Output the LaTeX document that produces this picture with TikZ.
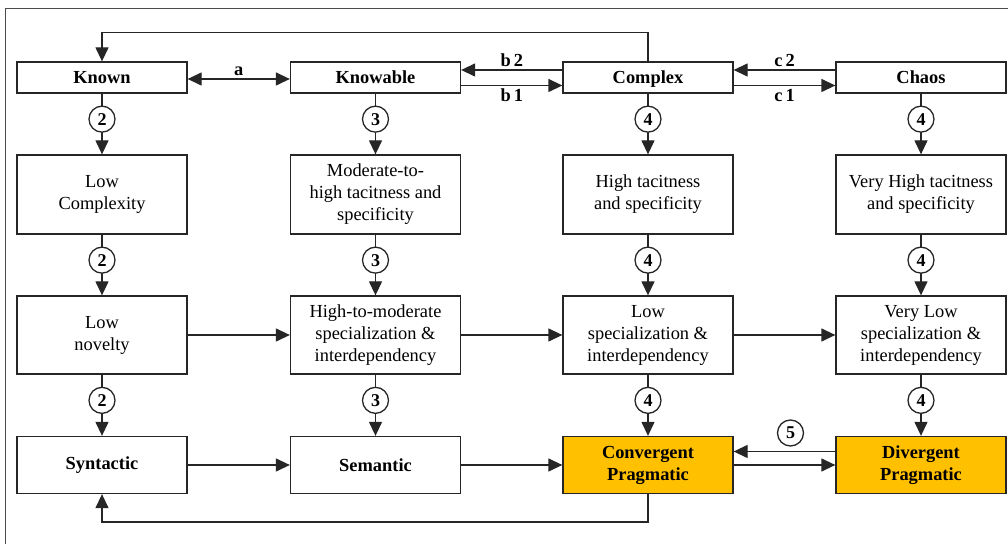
\documentclass[tikz,border=0pt]{standalone}
\usepackage{fontspec}
\setmainfont{Liberation Serif}
\usepackage{tikz}
\usetikzlibrary{arrows.meta,calc}

\definecolor{gold}{HTML}{FFC000}

\begin{document}
\begin{tikzpicture}[x=0.5pt, y=-0.5pt, line width=0.65pt, draw=black!85,
    >={Triangle[length=7pt,width=6.5pt]},
    box/.style={draw, align=center, minimum width=85pt, inner sep=2pt,
      font=\fontsize{9.2}{11}\selectfont},
    head/.style={box, minimum height=15.5pt, text height=7.6pt, text depth=1.2pt,
      font=\bfseries\fontsize{9.2}{11}\selectfont},
    kind/.style={box, minimum height=28.5pt, font=\bfseries\fontsize{9.2}{11}\selectfont},
    num/.style={circle, draw, fill=white, inner sep=0pt, minimum size=13pt,
      font=\bfseries\fontsize{9}{11}\selectfont},
    tag/.style={font=\bfseries\fontsize{9.2}{11}\selectfont, inner sep=1.5pt}]

    \useasboundingbox (0,0) rectangle (1008,544);
    \draw[black!70, line width=0.8pt] (5.5,560) -- (5.5,8.5) -- (1020,8.5);

    % domains
    \node[head] (known)    at (102,77.5)   {Known};
    \node[head] (knowable) at (375.5,77.5) {Knowable};
    \node[head] (complex)  at (648,77.5)   {Complex};
    \node[head] (chaos)    at (921,77.5)   {Chaos};

    % tacitness
    \node[box, minimum height=39.5pt] (lowcx)   at (102,194.5)   {Low\\Complexity};
    \node[box, minimum height=39.5pt] (modhigh) at (375.5,194.5) {Moderate-to-\\high tacitness and\\specificity};
    \node[box, minimum height=39.5pt] (hightac) at (648,194.5)   {High tacitness\\and specificity};
    \node[box, minimum height=39.5pt] (vhigh)   at (921,194.5)   {Very High tacitness\\and specificity};

    % specialization
    \node[box, minimum height=39pt] (lownov) at (102,335)   {Low\\novelty};
    \node[box, minimum height=39pt] (himod)  at (375.5,335) {High-to-moderate\\specialization \&\\interdependency};
    \node[box, minimum height=39pt] (lowspc) at (648,335)   {Low\\specialization \&\\interdependency};
    \node[box, minimum height=39pt] (vlow)   at (921,335)   {Very Low\\specialization \&\\interdependency};

    % boundaries
    \node[kind] (syn)  at (102,465)   {Syntactic};
    \node[kind] (sem)  at (375.5,465) {Semantic};
    \node[kind, fill=gold] (conv) at (648,465) {Convergent\\Pragmatic};
    \node[kind, fill=gold] (div)  at (921,465) {Divergent\\Pragmatic};

    \foreach \a/\b/\n in {known/lowcx/2, lowcx/lownov/2, lownov/syn/2,
                          knowable/modhigh/3, modhigh/himod/3, himod/sem/3,
                          complex/hightac/4, hightac/lowspc/4, lowspc/conv/4,
                          chaos/vhigh/4, vhigh/vlow/4, vlow/div/4} {
      \draw[->] (\a) -- node[num, pos=0.42] {\n} (\b);
    }

    \draw[<->] ($(known.east)+(0,1.5)$) -- node[tag, above] {a} ($(knowable.west)+(0,1.5)$);
    \draw[->] ($(complex.west)+(0,-7.5)$) -- node[tag, above] {b\,2} ($(knowable.east)+(0,-7.5)$);
    \draw[->] ($(knowable.east)+(0,8)$) -- node[tag, below] {b\,1} ($(complex.west)+(0,8)$);
    \draw[->] ($(chaos.west)+(0,-7.5)$) -- node[tag, above] {c\,2} ($(complex.east)+(0,-7.5)$);
    \draw[->] ($(complex.east)+(0,8)$) -- node[tag, below] {c\,1} ($(chaos.west)+(0,8)$);

    \foreach \a/\b in {lownov/himod, himod/lowspc, lowspc/vlow, syn/sem, sem/conv, conv/div} {
      \draw[->] (\a) -- (\b);
    }
    \draw[->] ($(div.west)+(0,-13.5)$) -- ($(conv.east)+(0,-13.5)$);
    \node[num] (five) at (790.5,433) {5};

    \draw[->] (complex.north) -- ++(0,-29) -| (known.north);
    \draw[->] (conv.south) -- ++(0,28) -| (syn.south);

  \end{tikzpicture}
\end{document}
